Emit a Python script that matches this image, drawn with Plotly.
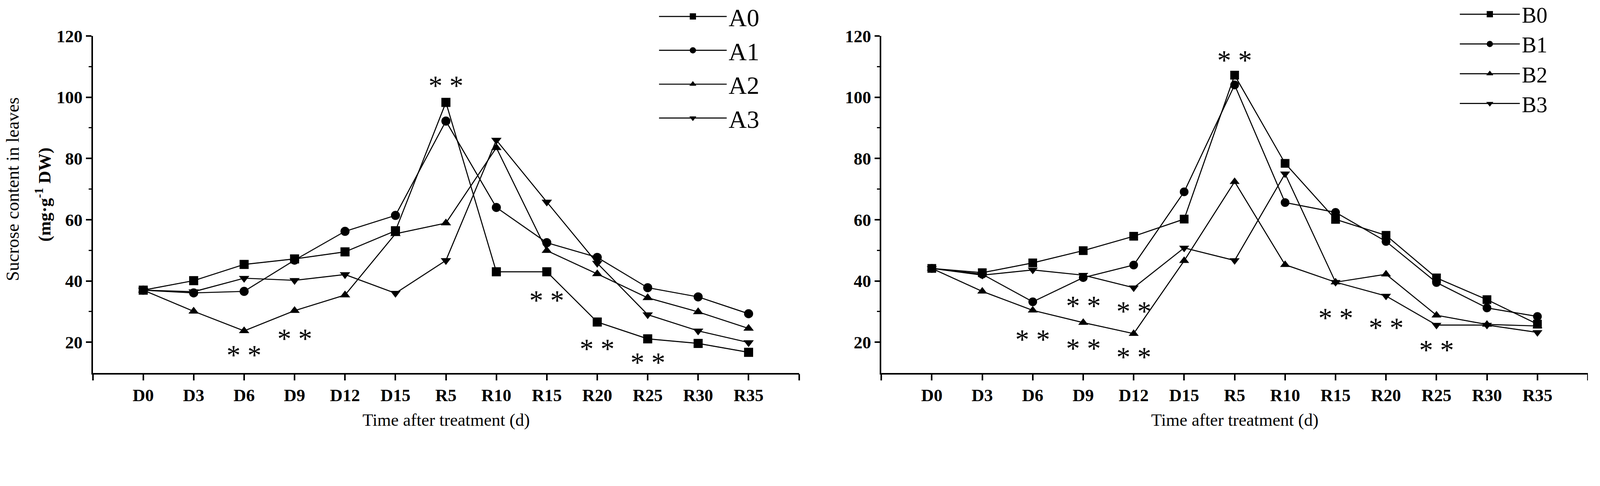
import plotly.graph_objects as go

# ---- dados ----
tempos = ['D0', 'D3', 'D6', 'D9', 'D12', 'D15', 'R5', 'R10', 'R15', 'R20', 'R25', 'R30', 'R35']

A0 = [37.0, 40.1, 45.4, 47.2, 49.5, 56.4, 98.3, 43.0, 43.0, 26.6, 21.1, 19.6, 16.7]
A1 = [37.0, 36.1, 36.6, 46.8, 56.2, 61.4, 92.2, 64.0, 52.5, 47.7, 37.8, 34.8, 29.3]
A2 = [37.0, 30.1, 23.7, 30.3, 35.4, 55.4, 58.9, 83.5, 49.9, 42.3, 34.5, 29.9, 24.5]
A3 = [37.0, 36.5, 40.9, 40.2, 42.1, 36.0, 46.7, 86.0, 65.8, 45.8, 29.0, 23.7, 19.9]

B0 = [44.1, 42.7, 45.9, 49.9, 54.6, 60.2, 107.2, 78.4, 60.1, 54.9, 41.0, 33.9, 25.9]
B1 = [44.1, 42.2, 33.2, 41.1, 45.2, 69.1, 104.0, 65.6, 62.4, 52.9, 39.5, 31.2, 28.4]
B2 = [44.1, 36.6, 30.4, 26.4, 22.8, 46.6, 72.4, 45.3, 39.6, 42.2, 28.8, 25.8, 25.3]
B3 = [44.1, 41.9, 43.6, 41.9, 37.8, 50.8, 46.7, 75.0, 39.6, 35.1, 25.6, 25.6, 23.2]

# marcas de significância (tempo, posição vertical)
sig_A = [('D6', 17.5), ('D9', 22.9), ('R5', 105.5), ('R15', 35.4), ('R20', 19.5), ('R25', 15.0)]
sig_B = [('D6', 22.6), ('D9', 33.6), ('D9', 19.6), ('D12', 31.8), ('D12', 16.9),
         ('R5', 113.7), ('R15', 29.6), ('R20', 26.4), ('R25', 19.2)]

y_ticks = [20, 40, 60, 80, 100, 120]
y_minor = [30, 50, 70, 90, 110]

# ---- escala da página ----
# a captura sai ~1.12x maior que o tamanho CSS, e o body tem 8px de margem
W, H = 4562, 1243
ESC = 1.12
MARG = 8
FW = round(W / ESC) - 2 * MARG
FH = round(H / ESC) - 2 * MARG
FONTE = 'Liberation Serif'
simbolos = ['square', 'circle', 'triangle-up', 'triangle-down']


def s(v):
    """tamanho medido na imagem -> px CSS"""
    return v / ESC


def px_x(p):
    return min(1.0, max(0.0, (p / ESC - MARG) / FW))


def px_y(p):
    return min(1.0, max(0.0, 1 - (p / ESC - MARG) / FH))


def topo_legenda(centro_linha1, fonte):
    # topo da legenda (paper, pode passar de 1) a partir do centro da 1a linha
    meia_linha = fonte / ESC * 1.414 / 2
    return 1 - (centro_linha1 / ESC - MARG - meia_linha) / FH


x_pos = list(range(len(tempos)))
tick_vals = [-1] + x_pos + [len(tempos)]
tick_txt = [''] + tempos + ['']

fig = go.Figure()

grupos = [
    ('x', 'y', 'legend', [('A0', A0), ('A1', A1), ('A2', A2), ('A3', A3)], 26),
    ('x2', 'y2', 'legend2', [('B0', B0), ('B1', B1), ('B2', B2), ('B3', B3)], 25),
]
for xa, ya, leg, series, msize in grupos:
    for (nome, vals), simb in zip(series, simbolos):
        fig.add_trace(go.Scatter(
            x=x_pos, y=vals, name=nome, mode='lines+markers',
            line=dict(color='black', width=s(3)),
            marker=dict(symbol=simb, size=s(msize), color='black'),
            xaxis=xa, yaxis=ya, legend=leg,
        ))

anotacoes = []
for xref, yref, sigs in [('x', 'y', sig_A), ('x2', 'y2', sig_B)]:
    for t, v in sigs:
        anotacoes.append(dict(
            x=tempos.index(t), y=v, xref=xref, yref=yref, text='* *',
            showarrow=False, xanchor='center', yanchor='middle', yshift=-s(14),
            font=dict(family=FONTE, size=s(80), color='black')))

# títulos dos eixos
anotacoes.append(dict(x=px_x(37), y=px_y(542), xref='paper', yref='paper',
                      xanchor='center', yanchor='middle',
                      text='Sucrose content in leaves', textangle=-90, showarrow=False,
                      font=dict(family=FONTE, size=s(52), color='black')))
anotacoes.append(dict(x=px_x(124), y=px_y(558), xref='paper', yref='paper',
                      xanchor='center', yanchor='middle',
                      text='<b>(mg·g<sup>-1</sup> DW)</b>', textangle=-90, showarrow=False,
                      font=dict(family=FONTE, size=s(50), color='black')))
for xd in ['x domain', 'x2 domain']:
    anotacoes.append(dict(x=0.5, y=px_y(1203), xref=xd, yref='paper',
                          xanchor='center', yanchor='middle',
                          text='Time after treatment (d)', showarrow=False,
                          font=dict(family=FONTE, size=s(50), color='black')))

eixo_x = dict(
    range=[-1, len(tempos)], tickmode='array', tickvals=tick_vals, ticktext=tick_txt,
    showline=True, linewidth=s(4), linecolor='black', ticks='outside', ticklen=s(17),
    tickwidth=s(4), tickcolor='black', showgrid=False, zeroline=False, automargin=False,
    tickfont=dict(family=FONTE, size=s(50), color='black', weight='bold'),
)
eixo_y = dict(
    range=[10, 120], tickmode='array', tickvals=y_ticks,
    domain=[px_y(1068), px_y(103)],
    showline=True, linewidth=s(4), linecolor='black', ticks='outside', ticklen=s(15),
    tickwidth=s(4), tickcolor='black', showgrid=False, zeroline=False, automargin=False,
    minor=dict(tickvals=y_minor, ticks='outside', ticklen=s(8),
               tickwidth=s(3), tickcolor='black'),
    tickfont=dict(family=FONTE, size=s(50), color='black', weight='bold'),
)

fig.update_layout(
    width=FW, height=FH, autosize=False,
    template='simple_white',
    paper_bgcolor='white', plot_bgcolor='white',
    margin=dict(l=0, r=0, t=0, b=0, autoexpand=False),
    xaxis=dict(eixo_x, domain=[px_x(266), px_x(2291)]),
    xaxis2=dict(eixo_x, domain=[px_x(2527), px_x(4553)], anchor='y2'),
    yaxis=dict(eixo_y, anchor='x'),
    yaxis2=dict(eixo_y, anchor='x2'),
    legend=dict(x=px_x(1884), y=topo_legenda(44, 72), xanchor='left', yanchor='top',
                font=dict(family=FONTE, size=s(72), color='black'),
                itemwidth=s(194), bgcolor='rgba(0,0,0,0)', tracegroupgap=0),
    legend2=dict(x=px_x(4180), y=topo_legenda(37, 63), xanchor='left', yanchor='top',
                 font=dict(family=FONTE, size=s(63), color='black'),
                 itemwidth=s(172), bgcolor='rgba(0,0,0,0)', tracegroupgap=0),
    showlegend=True,
    annotations=anotacoes,
)

fig.write_html('out.html')
